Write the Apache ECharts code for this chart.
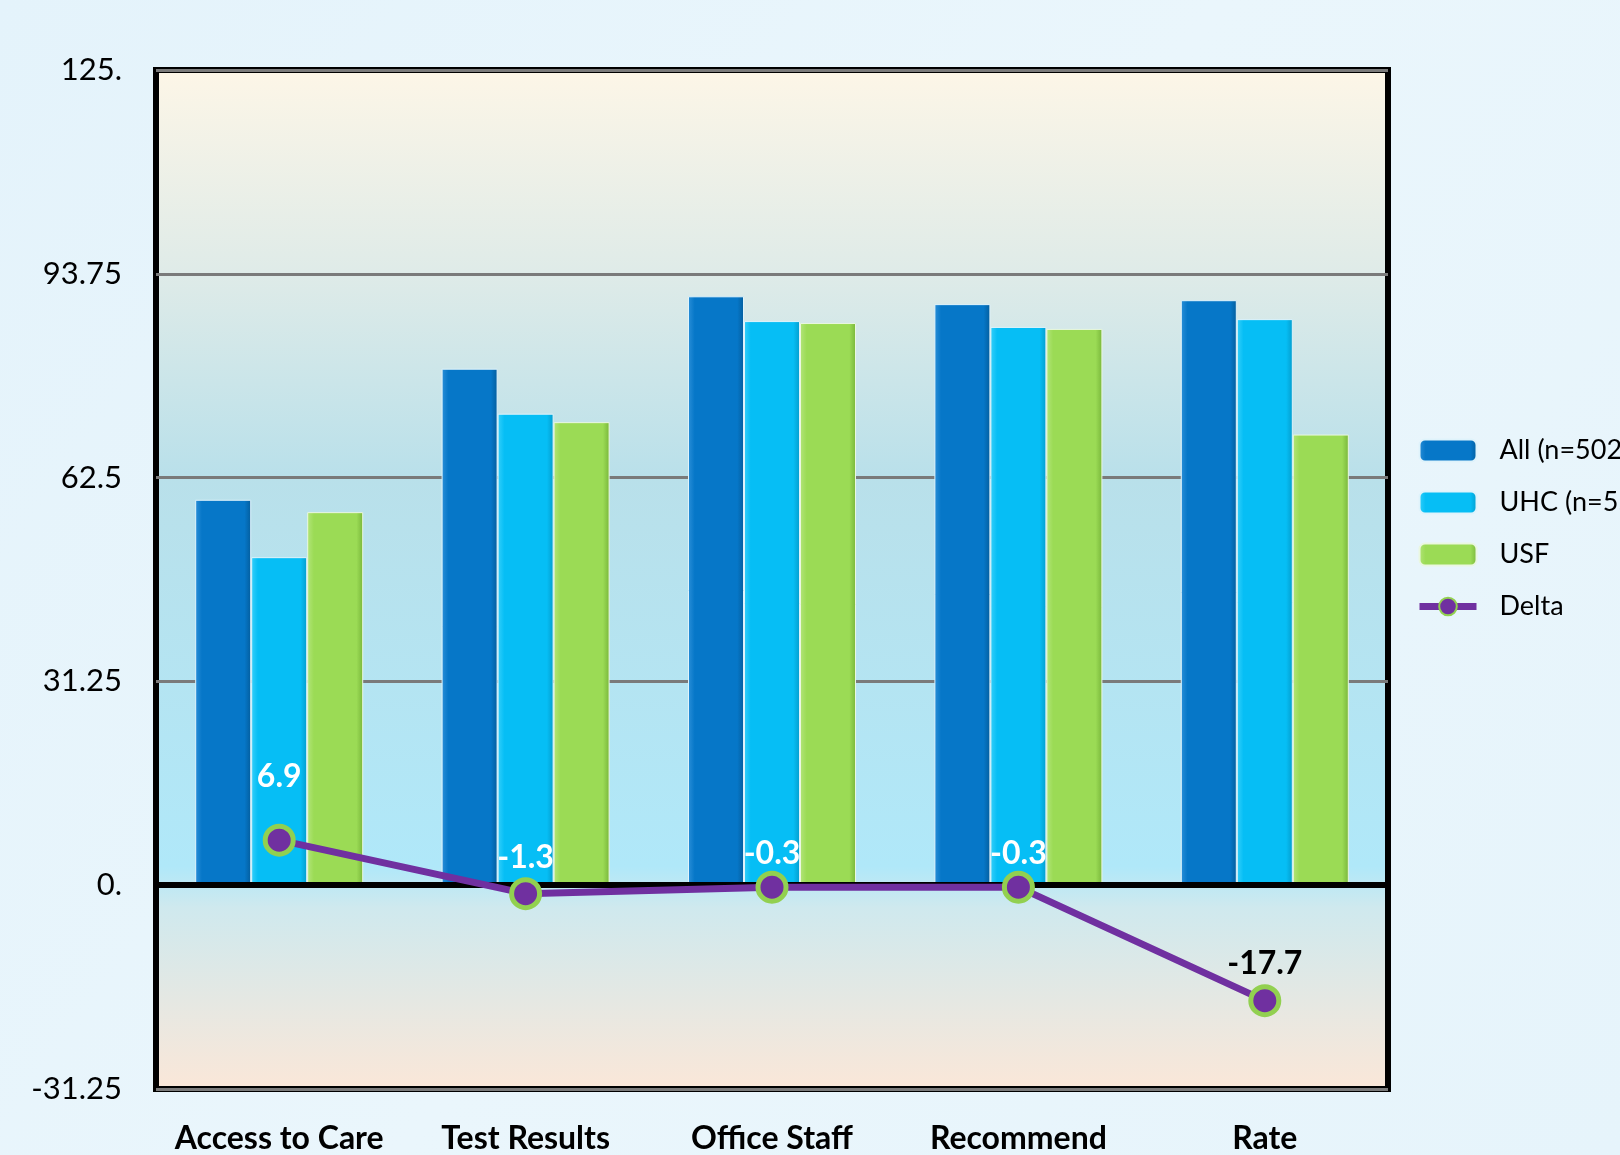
<!DOCTYPE html>
<html>
<head>
<meta charset="utf-8">
<script src="https://cdn.jsdelivr.net/npm/echarts@6/dist/echarts.min.js"></script>
<style>
  html, body { margin: 0; padding: 0; background: #e8f5fc; }
  #main { width: 1620px; height: 1155px; }
</style>
</head>
<body>
<div id="main"></div>
<script>
// categories + values
const categories = ['Access to Care', 'Test Results', 'Office Staff', 'Recommend', 'Rate'];
const allData = [59.1, 79.2, 90.3, 89.1, 89.7];
const uhcData = [50.3, 72.3, 86.5, 85.6, 86.8];
const usfData = [57.2, 71.0, 86.2, 85.3, 69.1];
const deltaData = [6.9, -1.3, -0.3, -0.3, -17.7];
const yTicks = [-31.25, 0, 31.25, 62.5, 93.75, 125];

const FONT = 'Lato';
var myChart = echarts.init(document.getElementById('main'));

// label placement differs a bit per point in the original
const labelDist = [31, 3, 1, 1, 4];
const labelColor = ['#ffffff', '#ffffff', '#ffffff', '#ffffff', '#000000'];

// bars look bevelled, fake it with a side-to-side gradient
function barFill(light, mid, dark) {
    return new echarts.graphic.LinearGradient(0, 0, 1, 0, [
        { offset: 0, color: light },
        { offset: 0.12, color: mid },
        { offset: 0.88, color: mid },
        { offset: 1, color: dark }
    ]);
}

var option = {
    backgroundColor: new echarts.graphic.LinearGradient(0, 0, 1, 1, [
        { offset: 0, color: '#e4f3fb' },
        { offset: 0.5, color: '#eaf6fc' },
        { offset: 1, color: '#e6f4fb' }
    ]),
    animation: false,
    textStyle: { fontFamily: FONT },
    grid: {
        left: 156,
        right: 232,
        top: 70,
        bottom: 64,
        show: true,
        borderColor: '#000',
        borderWidth: 6,
        backgroundColor: new echarts.graphic.LinearGradient(0, 0, 0, 1, [
            { offset: 0, color: '#fdf6e7' },
            { offset: 0.2, color: '#dfebe8' },
            { offset: 0.4, color: '#b9e0ea' },
            { offset: 0.78, color: '#b0e8f9' },
            { offset: 0.82, color: '#cfe9ee' },
            { offset: 1, color: '#fbe7d8' }
        ])
    },
    legend: {
        orient: 'vertical',
        left: 1411,
        top: 432,
        itemWidth: 57,
        itemHeight: 22,
        itemGap: 25,
        textStyle: { fontFamily: FONT, fontSize: 27, color: '#000', padding: [0, 0, 0, 18] },
        data: [
            { name: 'All (n=5022)' },
            { name: 'UHC (n=556)' },
            { name: 'USF' },
            { name: 'Delta', lineStyle: { width: 7, color: '#7030a0' } }
        ]
    },
    xAxis: {
        type: 'category',
        data: categories,
        axisLine: { show: false, onZero: false },
        axisTick: { show: false },
        axisLabel: { interval: 0, fontFamily: FONT, fontSize: 32, fontWeight: 'bold', color: '#000', margin: 34 }
    },
    yAxis: {
        type: 'value',
        min: -31.25,
        max: 125,
        interval: 31.25,
        axisLine: { show: false },
        axisTick: { show: false },
        splitLine: { lineStyle: { color: '#7a7a7a', width: 3 } },
        axisLabel: {
            fontFamily: FONT, fontSize: 31, color: '#000', margin: 34,
            formatter: function (v) {
                if (yTicks.indexOf(v) < 0) return '';
                return Number.isInteger(v) ? v + '.' : String(v);
            }
        }
    },
    series: [
        {
            name: 'All (n=5022)',
            type: 'bar',
            barWidth: 56,
            barGap: '0%',
            itemStyle: { color: barFill('#2a8fd8', '#0677c8', '#045d9c'), borderColor: '#dff3fb', borderWidth: 1 },
            data: allData,
            markLine: {
                silent: true,
                symbol: 'none',
                label: { show: false },
                lineStyle: { color: '#000', width: 6, type: 'solid' },
                data: [{ yAxis: 0 }]
            }
        },
        {
            name: 'UHC (n=556)',
            type: 'bar',
            barWidth: 56,
            itemStyle: { color: barFill('#35d0fa', '#06bef5', '#049ccc'), borderColor: '#dff3fb', borderWidth: 1 },
            data: uhcData
        },
        {
            name: 'USF',
            type: 'bar',
            barWidth: 56,
            itemStyle: { color: barFill('#b3e57a', '#9bdb55', '#78b63a'), borderColor: '#eaf7e0', borderWidth: 1 },
            data: usfData
        },
        {
            name: 'Delta',
            type: 'line',
            z: 10,
            symbol: 'circle',
            symbolSize: 28,
            lineStyle: { color: '#7030a0', width: 7 },
            itemStyle: { color: '#7030a0', borderColor: '#92d050', borderWidth: 5 },
            data: deltaData.map(function (v, i) {
                return {
                    value: v,
                    label: { distance: labelDist[i], color: labelColor[i] }
                };
            }),
            label: {
                show: true,
                position: 'top',
                fontFamily: FONT,
                fontSize: 32,
                fontWeight: 'bold',
                formatter: function (p) { return String(p.value); }
            }
        }
    ]
};
myChart.setOption(option);
</script>
</body>
</html>
